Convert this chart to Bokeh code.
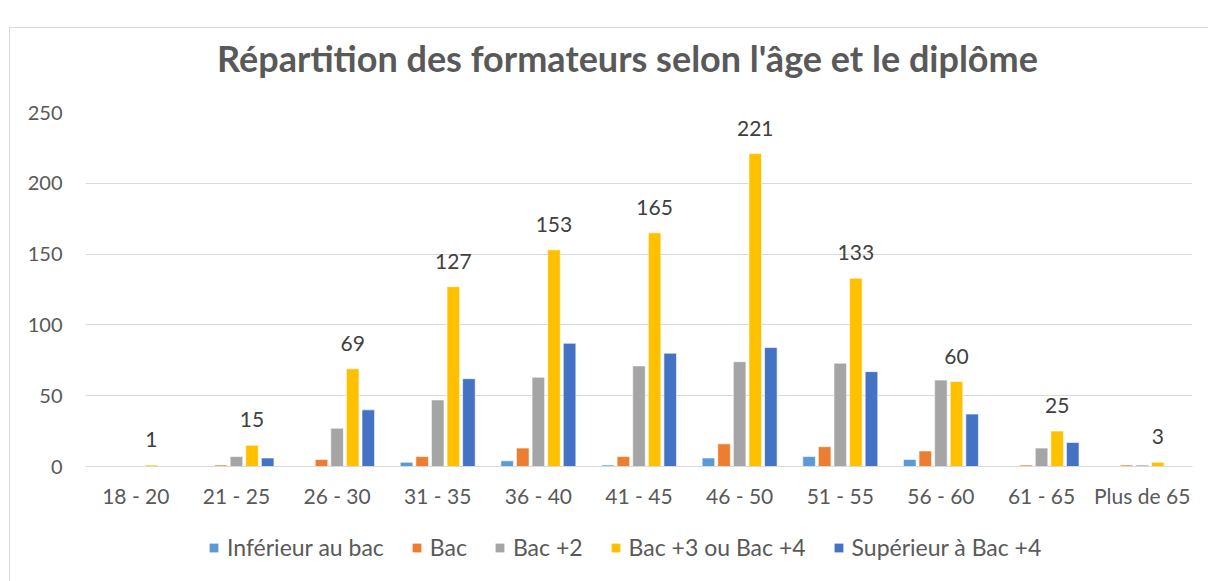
from bokeh.plotting import figure
from bokeh.models import (ColumnDataSource, FactorRange, Legend, LegendItem, LabelSet, Label)
from bokeh.layouts import column
from bokeh.core.properties import value
from bokeh.transform import dodge
from bokeh.embed import file_html
from bokeh.resources import INLINE

# ---- data ----
categories = ["18 - 20", "21 - 25", "26 - 30", "31 - 35", "36 - 40", "41 - 45",
              "46 - 50", "51 - 55", "56 - 60", "61 - 65", "Plus de 65"]
inferieur_bac = [0, 0, 0, 3, 4, 1, 6, 7, 5, 0, 0]
bac = [0, 1, 5, 7, 13, 7, 16, 14, 11, 1, 1]
bac_2 = [0, 7, 27, 47, 63, 71, 74, 73, 61, 13, 1]
bac_3_4 = [1, 15, 69, 127, 153, 165, 221, 133, 60, 25, 3]
superieur_bac_4 = [0, 6, 40, 62, 87, 80, 84, 67, 37, 17, 0]
series_names = ["Inférieur au bac", "Bac", "Bac +2", "Bac +3 ou Bac +4", "Supérieur à Bac +4"]
y_ticks = [0, 50, 100, 150, 200, 250]
title_text = "Répartition des formateurs selon l'âge et le diplôme"

colors = ["#5B9BD5", "#ED7D31", "#A5A5A5", "#FFC000", "#4472C4"]
keys = ["inf", "bac", "bac2", "bac34", "sup"]

source = ColumnDataSource(data=dict(
    cat=categories, inf=inferieur_bac, bac=bac, bac2=bac_2, bac34=bac_3_4, sup=superieur_bac_4,
    lab=[str(v) for v in bac_3_4],
))

FONT = "Lato"
TXT = "#595959"
W = 1198

def strip(h):
    f = figure(width=W, height=h, x_range=(0, 1), y_range=(0, 1),
               output_backend="svg", toolbar_location=None,
               x_axis_type=None, y_axis_type=None,
               min_border_left=0, min_border_right=0, min_border_top=0, min_border_bottom=0)
    f.outline_line_color = None
    f.xgrid.visible = False
    f.ygrid.visible = False
    return f

# title strip
tf = strip(50)
tf.add_layout(Label(x=542, y=21, x_units="screen", y_units="screen", text=title_text,
                    text_align="center", text_baseline="middle", text_font=FONT,
                    text_font_size="36px", text_font_style="bold", text_color=TXT))

p = figure(x_range=FactorRange(*categories, range_padding=0),
           y_range=(0, 250),
           width=W, height=447,
           output_backend="svg", toolbar_location=None,
           min_border_left=75, min_border_right=16, min_border_top=34, min_border_bottom=59)

p.outline_line_color = None
p.background_fill_color = "white"
p.border_fill_color = "white"

pitch = 0.155
offsets = [-2 * pitch, -pitch, 0, pitch, 2 * pitch]
for k, off, c in zip(keys, offsets, colors):
    p.vbar(x=dodge("cat", off, range=p.x_range), top=k, width=0.125, source=source,
           fill_color=c, line_color="white", line_width=0.6)

labels = LabelSet(x=dodge("cat", offsets[3], range=p.x_range), y="bac34", text="lab",
                  source=source, text_align="center", text_baseline="bottom", y_offset=18,
                  text_font=value(FONT), text_font_size=value("21px"), text_color="#404040")
p.add_layout(labels)

# axes
p.yaxis.ticker = y_ticks
p.yaxis.axis_line_color = None
p.yaxis.major_tick_line_color = None
p.yaxis.minor_tick_line_color = None
p.yaxis.major_tick_out = 0
p.yaxis.major_label_text_font = FONT
p.yaxis.major_label_text_font_size = "20px"
p.yaxis.major_label_text_color = TXT
p.yaxis.major_label_standoff = 23

p.xaxis.axis_line_color = "#D9D9D9"
p.xaxis.axis_line_width = 1
p.xaxis.major_tick_line_color = None
p.xaxis.minor_tick_line_color = None
p.xaxis.major_tick_out = 0
p.xaxis.major_label_text_font = FONT
p.xaxis.major_label_text_font_size = "21px"
p.xaxis.major_label_text_color = TXT
p.xaxis.major_label_standoff = 16

p.xgrid.grid_line_color = None
p.ygrid.grid_line_color = "#D9D9D9"
p.ygrid.grid_line_width = 1

# legend strip (its renderers sit outside the visible range; only the legend shows)
pl = strip(56)
dummies = [pl.vbar(x=[-10], top=[0], width=0.1, fill_color=c, line_color=None) for c in colors]

legend = Legend(items=[LegendItem(label=n, renderers=[r]) for n, r in zip(series_names, dummies)],
                orientation="horizontal", location=(123, 20),
                label_text_font=FONT, label_text_font_size="23px", label_text_color=TXT,
                glyph_width=11, glyph_height=11, label_standoff=8, spacing=27,
                border_line_color=None, background_fill_alpha=0, margin=0, padding=4)
pl.add_layout(legend)

layout = column(tf, p, pl, spacing=0)
layout.styles = {"border-left": "1px solid #D9D9D9", "border-top": "1px solid #D9D9D9",
                 "margin-left": "9px", "margin-top": "27px"}

open("out.html", "w").write(file_html(layout, INLINE))
